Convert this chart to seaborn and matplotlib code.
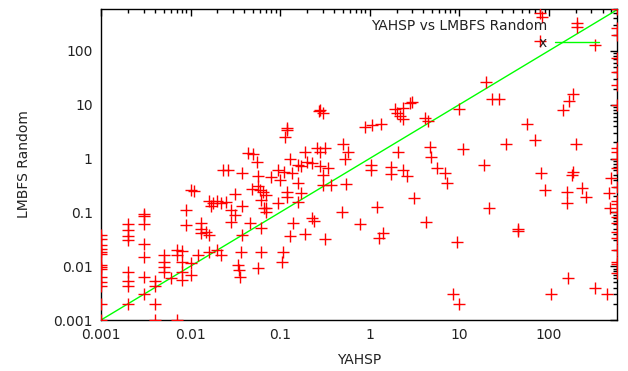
import numpy as np
import pandas as pd
import matplotlib
matplotlib.use("Agg")
import matplotlib.pyplot as plt
import matplotlib.ticker as mticker
import seaborn as sns

# ---- data (YAHSP time vs LMBFS Random time) ----
yahsp = [
    0.001, 0.001, 0.001, 0.001, 0.001, 0.001, 0.001, 0.001, 0.001, 0.001, 0.001, 0.001, 0.001, 0.001,
    0.002, 0.002, 0.002, 0.002, 0.002, 0.002, 0.002, 0.002,
    0.003, 0.003, 0.003, 0.003, 0.003, 0.003, 0.003,
    0.004, 0.004, 0.004, 0.004,
    0.005, 0.005, 0.005, 0.005,
    0.006, 0.007, 0.007, 0.007,
    0.008, 0.008, 0.008, 0.008,
    0.009, 0.009, 0.01, 0.01, 0.01, 0.011, 0.012,
    0.013, 0.013, 0.013, 0.015, 0.016, 0.016, 0.016, 0.017, 0.018,
    0.02, 0.02, 0.022, 0.022, 0.023, 0.025, 0.026, 0.028, 0.028, 0.031, 0.031,
    0.034, 0.035, 0.036, 0.037, 0.038, 0.038, 0.038,
    0.044, 0.046, 0.048, 0.05, 0.055, 0.056, 0.056, 0.056, 0.06,
    0.062, 0.062, 0.062, 0.064, 0.066, 0.07, 0.07, 0.07, 0.08,
    0.095, 0.095, 0.1, 0.105, 0.107, 0.11, 0.115, 0.12, 0.12, 0.12, 0.12,
    0.13, 0.13, 0.135, 0.14, 0.16, 0.16, 0.16, 0.17, 0.17, 0.19, 0.19, 0.2,
    0.23, 0.23, 0.24, 0.26, 0.27, 0.28, 0.28, 0.28, 0.3, 0.3, 0.3, 0.32, 0.32,
    0.34, 0.37, 0.49, 0.5, 0.53, 0.55, 0.58, 0.78, 0.9, 1.05, 1.05, 1.07,
    1.2, 1.26, 1.35, 1.4, 1.75, 1.75, 1.9, 2.0, 2.1, 2.2, 2.35, 2.35, 2.35,
    2.6, 2.8, 2.95, 3.1, 4.2, 4.3, 4.5, 4.7, 4.9, 5.6, 7.0, 7.3, 8.5, 9.5,
    10, 10, 11, 19, 20, 21.5, 23, 28, 33, 45, 45, 58, 70, 80, 80, 83, 85,
    90, 105, 145, 160, 160, 165, 170, 180, 185, 185, 200, 210, 235, 260,
    330, 330, 450, 470, 480, 500,
    580, 580, 580, 580, 580, 580, 580, 580, 580, 580, 580, 580,
    580, 580, 580, 580, 580, 580, 580, 580, 580, 580, 580,
]
lmbfs = [
    0.038, 0.032, 0.025, 0.021, 0.018, 0.017, 0.0105, 0.0095, 0.0088, 0.0063, 0.0051, 0.0043, 0.002, 0.001,
    0.062, 0.048, 0.036, 0.031, 0.0078, 0.0052, 0.0043, 0.002,
    0.092, 0.086, 0.06, 0.026, 0.015, 0.0062, 0.0031,
    0.0052, 0.0043, 0.002, 0.001,
    0.016, 0.012, 0.0095, 0.0078,
    0.006, 0.02, 0.016, 0.001,
    0.019, 0.012, 0.0078, 0.0056,
    0.11, 0.058, 0.26, 0.007, 0.0115, 0.25, 0.016,
    0.063, 0.05, 0.041, 0.043, 0.16, 0.038, 0.018, 0.13, 0.15,
    0.16, 0.02, 0.15, 0.016, 0.6, 0.155, 0.6, 0.11, 0.067, 0.22, 0.09,
    0.0105, 0.0085, 0.0063, 0.018, 0.54, 0.13, 0.038,
    1.25, 0.063, 0.27, 1.2, 0.85, 0.48, 0.31, 0.0093, 0.26,
    0.17, 0.018, 0.051, 0.24, 0.12, 0.21, 0.12, 0.1, 0.45,
    0.61, 0.15, 0.4, 0.012, 0.018, 0.57, 2.5, 3.4, 3.7, 0.24, 0.19,
    1.0, 0.037, 0.54, 0.063, 0.76, 0.35, 0.155, 0.72, 0.23, 1.3, 0.04, 0.87,
    0.83, 0.08, 0.069, 1.6, 7.7, 8.0, 1.3, 0.72, 7.0, 0.5, 0.32, 1.6, 0.032,
    0.67, 0.32, 0.1, 1.9, 1.0, 0.33, 1.3, 0.06, 3.9, 0.75, 0.62, 4.2,
    0.125, 0.033, 4.4, 0.041, 0.7, 0.52, 8.3, 7.0, 1.3, 6.2, 5.4, 8.6, 0.62,
    0.47, 10.8, 11.3, 0.185, 5.7, 0.066, 5.0, 1.65, 1.07, 0.67, 0.54, 0.35, 0.003, 0.028,
    8.5, 0.002, 1.5, 0.75, 26, 0.12, 13, 12.5, 1.85, 0.049, 0.045, 4.4, 2.2, 500, 150, 0.54, 430,
    0.26, 0.003, 8.0, 0.24, 0.148, 0.006, 11.5, 0.5, 15.5, 0.57, 1.85, 330, 0.28, 0.19,
    130, 0.004, 0.003, 0.23, 0.12, 0.44,
    600, 270, 200, 74, 40, 23, 10, 1.6, 1.3, 1.0, 0.68, 0.29,
    0.16, 0.14, 0.1, 0.082, 0.064, 0.043, 0.033, 0.02, 0.012, 0.011, 0.0075,
]
series_label = "YAHSP vs LMBFS Random"
diag_label = "x"
tick_values = [0.001, 0.01, 0.1, 1, 10, 100]
tick_labels = ["0.001", "0.01", "0.1", "1", "10", "100"]
x_range = (0.001, 580)
y_range = (0.001, 600)

df = pd.DataFrame({"YAHSP": yahsp, "LMBFS Random": lmbfs})

sns.set_style("white")
plt.rcParams["font.family"] = ["DejaVu Sans"]
FS = 10
plt.rcParams["font.size"] = FS

fig = plt.figure(figsize=(6.28, 3.71), dpi=100)
ax = fig.add_axes([101 / 628, 1 - 320 / 371, (617 - 101) / 628, (320 - 9) / 371])

sns.scatterplot(data=df, x="YAHSP", y="LMBFS Random", marker="+", s=80,
                color="#ff0000", linewidth=1.0, ax=ax, label=series_label, zorder=3)

diag = np.array([x_range[0], x_range[1]])
sns.lineplot(x=diag, y=diag, color="#00ff00", linewidth=1.0, ax=ax,
             label=diag_label, zorder=2)

ax.set_xscale("log")
ax.set_yscale("log")
ax.set_xlim(*x_range)
ax.set_ylim(*y_range)

for axis in (ax.xaxis, ax.yaxis):
    axis.set_major_locator(mticker.FixedLocator(tick_values))
    axis.set_major_formatter(mticker.FixedFormatter(tick_labels))
    axis.set_minor_locator(mticker.LogLocator(base=10, subs=np.arange(2, 10)))
    axis.set_minor_formatter(mticker.NullFormatter())

ax.tick_params(which="both", direction="in", top=True, right=True,
               colors="black", labelcolor="#222222", labelsize=FS, width=1.0)
ax.tick_params(which="major", length=5, pad=6)
ax.tick_params(which="minor", length=3)

for sp in ax.spines.values():
    sp.set_visible(True)
    sp.set_color("black")
    sp.set_linewidth(1.0)

ax.set_xlabel("YAHSP", fontsize=FS, labelpad=8, color="#222222")
ax.set_ylabel("LMBFS Random", fontsize=FS, labelpad=16, color="#222222")

leg = ax.legend(loc="upper right", bbox_to_anchor=(0.975, 0.985), frameon=False,
                markerfirst=False, handlelength=3.1, handletextpad=0.6,
                labelspacing=0.2, borderaxespad=0, fontsize=FS, scatterpoints=1)
for t in leg.get_texts():
    t.set_color("#222222")

fig.savefig("out.png", dpi=100, facecolor="white")
